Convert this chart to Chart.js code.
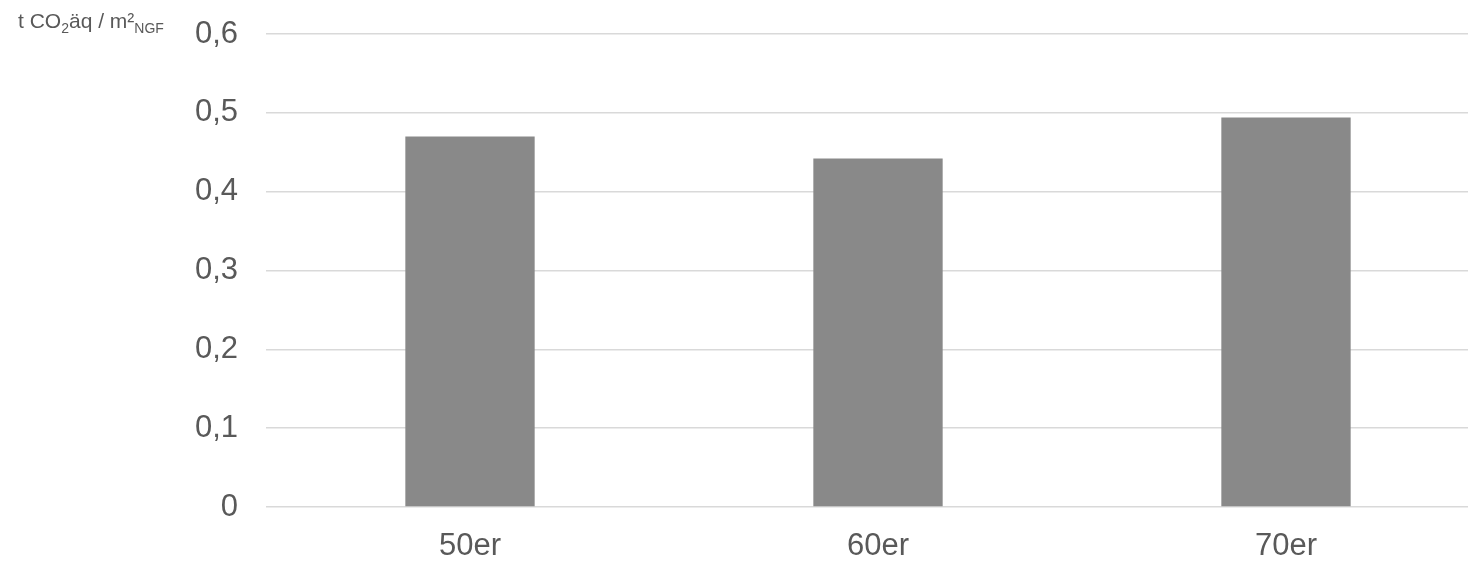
<!DOCTYPE html>
<html>
<head>
<meta charset="utf-8">
<script src="https://cdn.jsdelivr.net/npm/chart.js@4/dist/chart.umd.min.js"></script>
<style>
  html, body { margin: 0; padding: 0; background: #ffffff; overflow: hidden; }
  #wrap { position: relative; width: 1490px; height: 561px; }
</style>
</head>
<body>
<div id="wrap"><canvas id="c"></canvas></div>
<script>
// Embodied emissions per net floor area, by construction decade
const decades = ['50er', '60er', '70er'];
const emissions = [0.47, 0.442, 0.494];
const yTickLabels = ['0', '0,1', '0,2', '0,3', '0,4', '0,5', '0,6'];

const textColor = '#595959';
const fontFamily = '"Liberation Sans", Arial, sans-serif';

// Unit caption in the top-left corner, with sub- and superscripts
const unitCaption = {
  id: 'unitCaption',
  afterDraw(chart) {
    const ctx = chart.ctx;
    ctx.save();
    ctx.fillStyle = textColor;
    ctx.textBaseline = 'alphabetic';
    ctx.textAlign = 'left';
    const parts = [
      { t: 't CO', size: 21, dy: 0 },
      { t: '2', size: 14, dy: 5 },
      { t: 'äq / m²', size: 21, dy: 0 },
      { t: 'NGF', size: 14, dy: 5 }
    ];
    let x = 18;
    const base = 28;
    for (const p of parts) {
      ctx.font = p.size + 'px ' + fontFamily;
      ctx.fillText(p.t, x, base + p.dy);
      x += ctx.measureText(p.t).width;
    }
    ctx.restore();
  }
};

new Chart(document.getElementById('c'), {
  type: 'bar',
  data: {
    labels: decades,
    datasets: [{
      data: emissions,
      backgroundColor: '#898989',
      borderWidth: 0,
      barPercentage: 1,
      categoryPercentage: 0.317
    }]
  },
  options: {
    responsive: true,
    maintainAspectRatio: false,
    animation: false,
    layout: { padding: { top: 34, bottom: 0, left: 0, right: 0 } },
    plugins: { legend: { display: false }, tooltip: { enabled: false } },
    scales: {
      x: {
        afterFit(scale) { scale.height = 54; },
        grid: { display: false },
        border: { display: false },
        ticks: {
          color: textColor,
          font: { family: fontFamily, size: 31 },
          padding: 13
        }
      },
      y: {
        min: 0,
        max: 0.6,
        afterFit(scale) {
          scale.width = 266;
          scale.paddingTop = 0;
          scale.paddingBottom = 0;
        },
        grid: { color: '#d9d9d9', lineWidth: 1.5, drawTicks: false },
        border: { display: false },
        ticks: {
          stepSize: 0.1,
          color: textColor,
          font: { family: fontFamily, size: 31 },
          padding: 28,
          callback: (v, i) => yTickLabels[i]
        }
      }
    }
  },
  plugins: [unitCaption]
});
</script>
</body>
</html>
